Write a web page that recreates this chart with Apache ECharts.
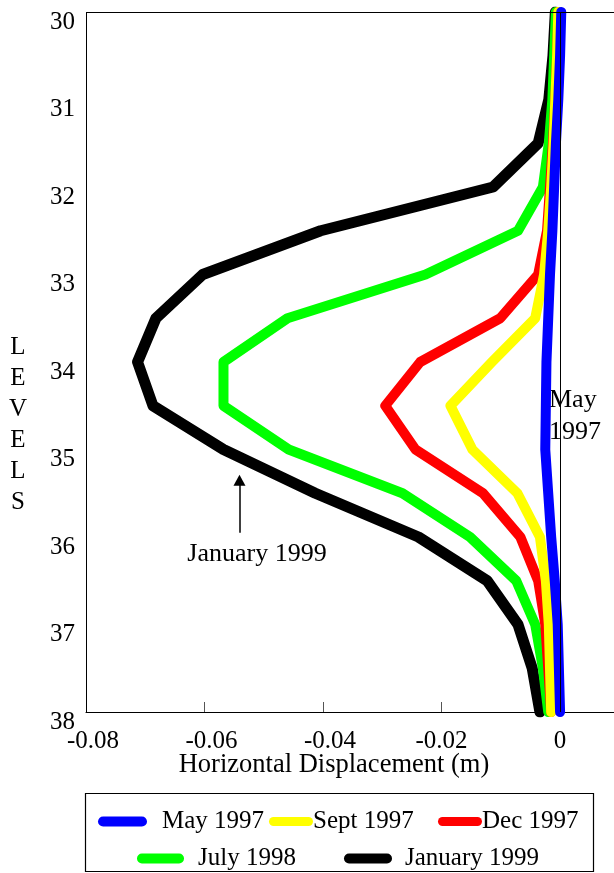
<!DOCTYPE html>
<html>
<head>
<meta charset="utf-8">
<script src="https://cdn.jsdelivr.net/npm/echarts@6/dist/echarts.min.js"></script>
<style>html,body{margin:0;padding:0;background:#fff}#c{width:614px;height:873px}</style>
</head>
<body>
<div id="c"></div>
<script>
var levels = [30, 30.5, 31, 31.5, 32, 32.5, 33, 33.5, 34, 34.5, 35, 35.5, 36, 36.5, 37, 37.5, 38];
var may1997 = [0.0002, 0.0000, -0.0003, -0.0007, -0.0010, -0.0013, -0.0017, -0.0020, -0.0023, -0.0024, -0.0025, -0.0020, -0.0015, -0.0009, -0.0004, -0.0002, 0.0000];
var sept1997 = [-0.0003, -0.0005, -0.0008, -0.0011, -0.0015, -0.0020, -0.0027, -0.0042, -0.0115, -0.0185, -0.0148, -0.0072, -0.0034, -0.0024, -0.0019, -0.0017, -0.0015];
var dec1997 = [-0.0003, -0.0005, -0.0008, -0.0012, -0.0017, -0.0022, -0.0037, -0.0101, -0.0236, -0.0295, -0.0244, -0.0130, -0.0067, -0.0037, -0.0025, -0.0020, -0.0015];
var july1998 = [-0.0007, -0.0010, -0.0013, -0.0019, -0.0029, -0.0071, -0.0227, -0.0460, -0.0568, -0.0568, -0.0458, -0.0266, -0.0152, -0.0074, -0.0042, -0.0029, -0.0020];
var jan1999 = [-0.0008, -0.0012, -0.0019, -0.0037, -0.0113, -0.0404, -0.0603, -0.0682, -0.0713, -0.0687, -0.0568, -0.0413, -0.0239, -0.0123, -0.0071, -0.0047, -0.0034];
var xTicks = [-0.08, -0.06, -0.04, -0.02, 0];
var xTickLabels = ['-0.08', '-0.06', '-0.04', '-0.02', '0'];
var seriesNames = ['May 1997', 'Sept 1997', 'Dec 1997', 'July 1998', 'January 1999'];
var colors = ['#0000ff', '#ffff00', '#ff0000', '#00ff00', '#000000'];

var FONT = 'Liberation Serif';
function pairs(vals) { return vals.map(function (v, i) { return [v, levels[i]]; }); }
var capsule = 'path://M5,0 H43 A5,5 0 0 1 43,10 H5 A5,5 0 0 1 5,0 Z';

function line(name, vals, color, width, extra) {
  var s = {
    name: name, type: 'line', data: pairs(vals), symbol: 'none',
    color: color,
    lineStyle: { color: color, width: width, cap: 'round', join: 'round' },
    silent: true, animation: false
  };
  if (extra) for (var k in extra) s[k] = extra[k];
  return s;
}

var chart = echarts.init(document.getElementById('c'), null, { renderer: 'canvas' });
var legendItems = [
  { name: seriesNames[0], left: 98, top: 809, w: 49, pad: 10 },
  { name: seriesNames[1], left: 269, top: 809, w: 44, pad: -5 },
  { name: seriesNames[2], left: 438, top: 809, w: 44, pad: -5 },
  { name: seriesNames[3], left: 137, top: 846, w: 47, pad: 9 },
  { name: seriesNames[4], left: 344, top: 846, w: 48, pad: 8 }
];
var labelRich = {
  s: { fontFamily: FONT, fontSize: 25, color: '#000', padding: [0, 0, 0, 14] },
  c: { fontFamily: FONT, fontSize: 25, color: '#000' }
};
var option = {
  animation: false,
  backgroundColor: '#fff',
  grid: { left: 86, top: 12, bottom: 161, right: 0, show: false },
  xAxis: {
    type: 'value', min: -0.08, max: 0.0091, interval: 0.02,
    axisLine: { show: true, onZero: false, lineStyle: { color: '#000', width: 1 } },
    axisTick: { show: true, inside: true, length: 10, customValues: xTicks, lineStyle: { color: '#555', width: 1 } },
    axisLabel: {
      show: true, margin: 17, color: '#000', fontFamily: FONT, fontSize: 25,
      customValues: xTicks,
      rich: labelRich,
      formatter: function (v) {
        for (var i = 0; i < xTicks.length; i++) {
          if (Math.abs(v - xTicks[i]) < 1e-9) {
            return (i < 3 ? '{s|' : '{c|') + xTickLabels[i] + '}';
          }
        }
        return '';
      }
    },
    splitLine: { show: false }
  },
  yAxis: {
    type: 'value', inverse: true, min: 30, max: 38, interval: 1,
    axisLine: { show: false, onZero: false },
    axisTick: { show: false },
    axisLabel: { margin: 11, color: '#000', fontFamily: FONT, fontSize: 25, verticalAlign: 'top', lineHeight: 20 },
    splitLine: { show: false }
  },
  legend: legendItems.map(function (it) {
    return {
      data: [{ name: it.name, icon: capsule }],
      left: it.left, top: it.top, padding: 0,
      itemWidth: it.w, itemHeight: 11,
      selectedMode: false,
      textStyle: { color: '#000', fontFamily: FONT, fontSize: 25, padding: [0, 0, 0, it.pad] }
    };
  }),
  series: [
    line(seriesNames[4], jan1999, colors[4], 11, {
      markLine: {
        silent: true, animation: false,
        symbol: ['none', 'triangle'], symbolSize: [12, 11],
        lineStyle: { color: '#000', width: 1.5, type: 'solid' },
        label: { show: false },
        data: [[{ coord: [-0.0541, 35.95] }, { coord: [-0.0541, 35.35] }]]
      }
    }),
    line(seriesNames[3], july1998, colors[3], 10),
    line(seriesNames[2], dec1997, colors[2], 10),
    line(seriesNames[1], sept1997, colors[1], 10),
    line(seriesNames[0], may1997, colors[0], 10, {
      markLine: {
        silent: true, animation: false, symbol: ['none', 'none'],
        lineStyle: { color: '#000', width: 1, type: 'solid' },
        label: { show: false },
        data: [{ xAxis: -0.08 }, { xAxis: 0 }, { yAxis: 30 }]
      }
    })
  ],
  graphic: [
    { type: 'rect', shape: { x: 85.5, y: 793.5, width: 508, height: 78 }, style: { fill: 'none', stroke: '#000', lineWidth: 1.2 }, silent: true },
    { type: 'text', x: 334, y: 765, style: { text: 'Horizontal Displacement (m)', font: '26.5px "Liberation Serif"', fill: '#000', textAlign: 'center', textVerticalAlign: 'middle' }, silent: true },
    { type: 'text', x: 18, y: 425, style: { text: 'L\nE\nV\nE\nL\nS', font: '25px "Liberation Serif"', lineHeight: 31, fill: '#000', textAlign: 'center', textVerticalAlign: 'middle' }, silent: true },
    { type: 'text', x: 257, y: 554, style: { text: 'January 1999', font: '26px "Liberation Serif"', fill: '#000', textAlign: 'center', textVerticalAlign: 'middle' }, silent: true },
    { type: 'text', x: 549, y: 416, style: { text: 'May\n1997', font: '26px "Liberation Serif"', lineHeight: 32, fill: '#000', textAlign: 'left', textVerticalAlign: 'middle' }, silent: true }
  ]
};
chart.setOption(option);
</script>
</body>
</html>
